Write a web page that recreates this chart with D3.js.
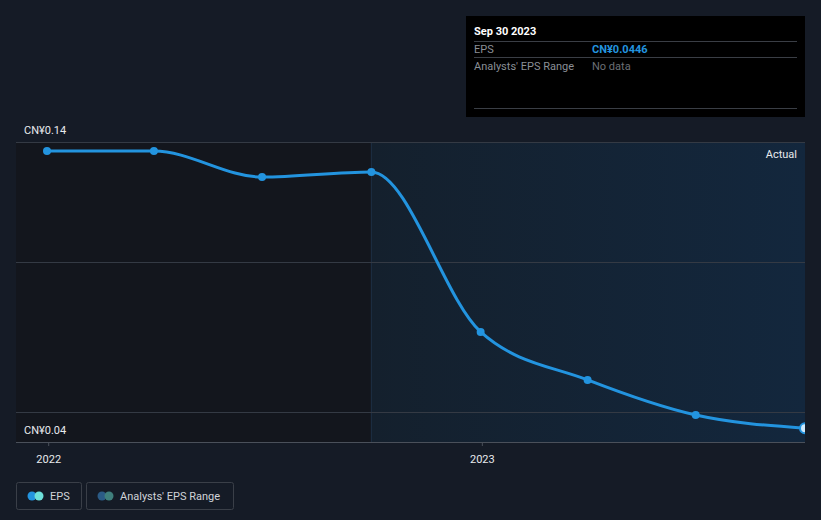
<!DOCTYPE html>
<html><head><meta charset="utf-8">
<script src="https://cdn.jsdelivr.net/npm/d3@7"></script>
<style>
html,body{margin:0;padding:0;background:#151b26;}
svg{display:block;font-family:Roboto,"Noto Sans",sans-serif;}
</style></head><body>
<svg id="c" width="821" height="520"></svg>
<script>
const dates = ["2021-12-31","2022-03-31","2022-06-30","2022-09-30","2022-12-31","2023-03-31","2023-06-30","2023-09-30"];
const eps = [0.137, 0.137, 0.1283, 0.130, 0.0767, 0.0607, 0.049, 0.0446];
const yTickValues = [0.04, 0.05, 0.10, 0.14];
const yLabelValues = [0.04, 0.14];
const xTickLabels = ["2022","2023"];
const forecastStart = "2022-09-30";

const parse = d3.utcParse("%Y-%m-%d");
const data = dates.map((d,i)=>({date:parse(d), v:eps[i]}));
const svg = d3.select("#c");
const L=16, R=805, T=142, B=442;
const x = d3.scaleUtc().domain([parse("2021-12-31"), parse("2023-09-30")]).range([47, 805]);
const y = d3.scaleLinear().domain([0.04, 0.14]).range([B, T]);

const defs = svg.append("defs");
const g1 = defs.append("linearGradient").attr("id","sh").attr("x1","0").attr("x2","1");
g1.append("stop").attr("offset","0").attr("stop-color","#14202d");
g1.append("stop").attr("offset","1").attr("stop-color","#13273d");
defs.append("clipPath").attr("id","clip").append("rect").attr("x",L).attr("y",T-10).attr("width",R-L).attr("height",B-T+10);

// plot backgrounds
svg.append("rect").attr("x",L).attr("y",T).attr("width",x(parse(forecastStart))-L).attr("height",B-T).attr("fill","#13161d");
svg.append("rect").attr("x",x(parse(forecastStart))).attr("y",T).attr("width",R-x(parse(forecastStart))).attr("height",B-T).attr("fill","url(#sh)");
svg.append("line").attr("x1",x(parse(forecastStart))).attr("x2",x(parse(forecastStart))).attr("y1",T).attr("y2",B).attr("stroke","#1d3045").attr("stroke-width",1);

// gridlines
svg.append("g").selectAll("line").data(yTickValues).join("line")
  .attr("x1",L).attr("x2",R).attr("y1",d=>Math.round(y(d))+0.5).attr("y2",d=>Math.round(y(d))+0.5)
  .attr("stroke",d=>d===0.04?"#4a505a":"#343a44").attr("stroke-width",1);

// y labels
svg.append("g").selectAll("text").data(yLabelValues).join("text")
  .attr("x",24).attr("y",d=>y(d)-8).attr("fill","#e8eaed").attr("font-size",11)
  .text(d=>"CN¥"+d.toFixed(2));

// x axis
const xa = svg.append("g").attr("transform",`translate(0,${B})`)
  .call(d3.axisBottom(x).tickValues(xTickLabels.map(t=>parse(t+"-01-01"))).tickSize(4).tickFormat(d3.utcFormat("%Y")));
xa.select(".domain").remove();
xa.selectAll("line").attr("stroke","#4a505a");
xa.selectAll("text").attr("fill","#e8eaed").attr("font-size",11).attr("dy","1.3em").attr("font-family","Roboto,sans-serif");

svg.append("text").attr("x",797).attr("y",158).attr("text-anchor","end").attr("fill","#e8eaed").attr("font-size",11).text("Actual");

// line
const pg = svg.append("g").attr("clip-path","url(#clip)");
pg.append("path").datum(data).attr("fill","none").attr("stroke","#2394df").attr("stroke-width",3)
  .attr("d",d3.line().x(d=>x(d.date)).y(d=>y(d.v)).curve(d3.curveMonotoneX));
pg.selectAll("circle").data(data).join("circle")
  .attr("cx",d=>x(d.date)).attr("cy",d=>y(d.v))
  .attr("r",(d,i)=>i===data.length-1?5:4)
  .attr("fill",(d,i)=>i===data.length-1?"#cfe9fb":"#2394df")
  .attr("stroke","#2394df").attr("stroke-width",(d,i)=>i===data.length-1?2:0);

// tooltip
const tt = svg.append("g").attr("transform","translate(466,16)");
tt.append("rect").attr("width",339).attr("height",101).attr("fill","#000");
tt.append("text").attr("x",8).attr("y",19).attr("fill","#fff").attr("font-size",11).attr("font-weight","bold").text("Sep 30 2023");
[25.5,41.5,92.5].forEach(yy=>tt.append("line").attr("x1",8).attr("x2",331).attr("y1",yy).attr("y2",yy).attr("stroke","#3a3e45"));
tt.append("text").attr("x",8).attr("y",37).attr("fill","#8a8f96").attr("font-size",11).text("EPS");
tt.append("text").attr("x",126).attr("y",37).attr("fill","#2394df").attr("font-size",11).attr("font-weight","bold").text("CN¥"+eps[eps.length-1]);
tt.append("text").attr("x",8).attr("y",54).attr("fill","#8a8f96").attr("font-size",11).text("Analysts' EPS Range");
tt.append("text").attr("x",126).attr("y",54).attr("fill","#6b6f75").attr("font-size",11).text("No data");

// legend
const leg = [{x:16,w:65,label:"EPS",c:["#2394df","#6ee0d9"]},{x:86,w:147,label:"Analysts' EPS Range",c:["#2b5b86","#3f7f7c"]}];
const lg = svg.append("g").selectAll("g").data(leg).join("g").attr("transform",d=>`translate(${d.x},482)`);
lg.append("rect").attr("x",0.5).attr("y",0.5).attr("width",d=>d.w).attr("height",27).attr("rx",2).attr("fill","none").attr("stroke","#3a3f48");
lg.append("circle").attr("cx",16).attr("cy",14).attr("r",4.5).attr("fill",d=>d.c[0]);
lg.append("circle").attr("cx",23).attr("cy",14).attr("r",4.5).attr("fill",d=>d.c[1]);
lg.append("text").attr("x",34).attr("y",18).attr("fill","#d0d3d8").attr("font-size",11).text(d=>d.label);
</script></body></html>
